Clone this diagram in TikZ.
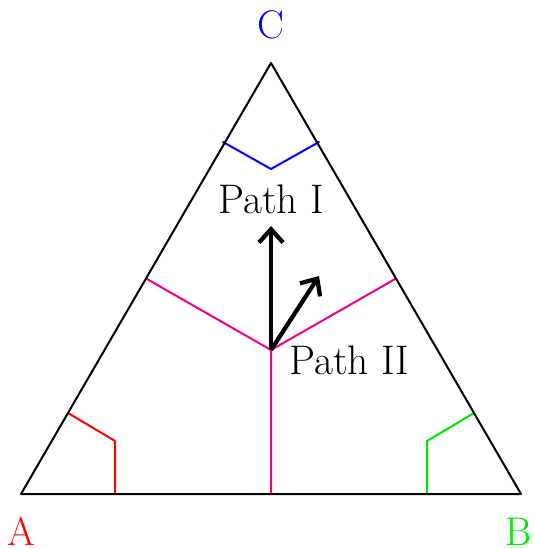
\documentclass[tikz,border=0pt]{standalone}
\usetikzlibrary{arrows.meta}
\definecolor{magentaline}{RGB}{235,0,140}
\definecolor{greenline}{RGB}{0,230,0}
\begin{document}
\begin{tikzpicture}[x=0.75pt,y=-0.75pt,
  edge/.style={line width=1.5pt,line cap=round,line join=round},
  vlabel/.style={font=\fontsize{30}{32}\selectfont,inner sep=0pt},
  plabel/.style={font=\fontsize{31}{34}\selectfont,inner sep=0pt},
  bigarrow/.style={line width=3.2pt,-{Straight Barb[length=10pt,width=18pt,line width=3.2pt]}}]
\useasboundingbox (0,0) rectangle (533,549);
\coordinate (A) at (21,494);
\coordinate (B) at (521,494);
\coordinate (C) at (271,63);
\coordinate (O) at (271,350);
\coordinate (mAB) at (271,494);
\coordinate (mAC) at (146,278.5);
\coordinate (mBC) at (396,278.5);
% corner marks
\coordinate (ra) at (68,413);
\coordinate (rb) at (115,441);
\coordinate (rc) at (115,494);
\coordinate (ga) at (474,413);
\coordinate (gb) at (427,441);
\coordinate (gc) at (427,494);
\coordinate (ba) at (223,142);
\coordinate (bb) at (271,169);
\coordinate (bc) at (319,142);
\coordinate (t1) at (271,226);
\coordinate (t2) at (319,276);

\draw[edge,red] (ra) -- (rb) -- (rc);
\draw[edge,greenline] (ga) -- (gb) -- (gc);
\draw[edge,blue] (ba) -- (bb) -- (bc);
\draw[edge,magentaline] (O) -- (mAB) (O) -- (mAC) (O) -- (mBC);
\draw[edge,black] (A) -- (B) -- (C) -- cycle;

\draw[bigarrow] (O) -- (t1);
\draw[bigarrow] (O) -- (t2);

\node[vlabel,red] (lA) at (21,531) {A};
\node[vlabel,greenline] (lB) at (519,532) {B};
\node[vlabel,blue] (lC) at (271,25) {C};
\node[plabel,anchor=base] (p1) at (271,213) {Path I};
\node[plabel,anchor=base west] (p2) at (289,374) {Path II};
\end{tikzpicture}
\end{document}
